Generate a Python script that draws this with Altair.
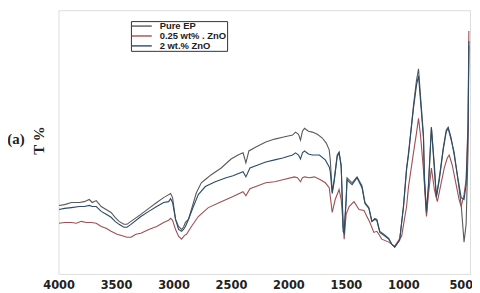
import altair as alt
import pandas as pd

series_names = ["Pure EP", "\u00a00.25 wt% . ZnO", "2 wt.% ZnO"]
series_colors = ["#595959", "#9c4f55", "#2b4b66"]

# Pure EP
wn_pure = [3996, 3948, 3888, 3819, 3776, 3733, 3707, 3672, 3629, 3586, 3543, 3508, 3474, 3431, 3405, 3370,
           3284, 3215, 3146, 3086, 3042, 3025, 3008, 2982, 2956, 2930, 2913, 2896, 2870, 2844, 2801, 2758,
           2715, 2671, 2585, 2499, 2438, 2395, 2370, 2344, 2283, 2197, 2119, 2050, 1964, 1938, 1912, 1895,
           1878, 1860, 1826, 1792, 1748, 1705, 1671, 1645, 1636, 1619, 1602, 1576, 1559, 1541, 1533, 1524,
           1515, 1498, 1490, 1446, 1403, 1360, 1334, 1300, 1274, 1248, 1231, 1205, 1170, 1127, 1101, 1075,
           1032, 998, 972, 955, 912, 886, 868, 851, 825, 817, 799, 782, 756, 730, 713, 687, 653, 627, 610,
           584, 558, 523, 497, 472, 454, 437, 430]
t_pure = [25.4, 25.7, 26.5, 26.5, 26.8, 27.6, 26.5, 27.2, 25.0, 23.9, 22.8, 21.0, 19.5, 18.4, 18.4, 19.5,
          22.1, 24.3, 26.5, 28.3, 29.4, 29.8, 28.3, 20.2, 17.6, 16.5, 17.3, 19.1, 20.2, 23.9, 30.1, 33.8,
          35.3, 36.8, 39.3, 42.6, 44.1, 44.9, 41.2, 45.6, 47.1, 48.9, 50.0, 50.7, 51.5, 52.6, 51.8, 49.6,
          52.9, 54.0, 52.9, 52.6, 51.8, 50.4, 48.5, 46.0, 42.3, 30.5, 34.9, 44.1, 45.2, 40.4, 30.1, 17.3,
          16.5, 27.6, 35.7, 33.8, 36.0, 32.7, 26.5, 24.6, 19.5, 20.6, 20.2, 15.8, 14.7, 13.2, 11.0, 9.9,
          12.9, 25.0, 38.6, 44.1, 62.5, 71.7, 76.1, 66.2, 51.5, 36.8, 22.1, 31.3, 54.4, 40.4, 28.3, 34.9,
          46.0, 52.6, 54.0, 49.6, 45.2, 34.2, 25.7, 11.8, 18.4, 46.0, 84.6]

# 0.25 wt% ZnO
wn_025 = [3996, 3948, 3888, 3845, 3802, 3758, 3715, 3672, 3629, 3586, 3543, 3491, 3431, 3405, 3370, 3327,
          3284, 3215, 3146, 3086, 3042, 3025, 3008, 2982, 2956, 2930, 2904, 2887, 2844, 2784, 2697, 2585,
          2482, 2395, 2370, 2335, 2266, 2197, 2119, 2050, 1947, 1921, 1895, 1878, 1860, 1817, 1774, 1722,
          1679, 1645, 1619, 1593, 1559, 1541, 1524, 1515, 1498, 1472, 1429, 1386, 1343, 1317, 1291, 1257,
          1231, 1213, 1188, 1127, 1075, 1015, 972, 955, 912, 886, 868, 851, 825, 799, 782, 756, 730, 704,
          679, 644, 618, 601, 575, 549, 515, 497, 472, 454, 437, 430]
t_025 = [18.8, 19.1, 19.1, 18.8, 19.5, 19.1, 19.1, 18.8, 17.6, 16.9, 15.8, 14.7, 14.0, 13.6, 13.6, 14.7,
         15.1, 16.5, 17.6, 19.1, 19.9, 20.6, 19.9, 16.5, 14.0, 12.9, 14.3, 14.7, 17.6, 21.3, 24.6, 26.8,
         28.7, 30.5, 29.0, 31.6, 32.7, 33.8, 34.2, 34.9, 36.0, 35.7, 34.2, 35.7, 36.0, 35.7, 36.0, 34.9,
         33.8, 32.0, 22.8, 27.6, 31.3, 27.6, 18.4, 12.9, 22.1, 25.0, 26.8, 23.9, 23.5, 21.3, 19.1, 15.4,
         15.8, 14.7, 12.9, 11.8, 10.3, 14.0, 25.0, 32.4, 44.9, 52.2, 57.7, 51.5, 38.6, 21.3, 29.4, 39.3,
         31.3, 26.8, 32.0, 39.3, 43.0, 44.1, 40.4, 34.9, 27.6, 25.0, 29.4, 34.9, 57.0, 90.1]

# 2 wt% ZnO
wn_2 = [3996, 3948, 3888, 3819, 3776, 3733, 3707, 3672, 3629, 3586, 3543, 3508, 3474, 3431, 3405, 3370,
        3284, 3215, 3146, 3086, 3042, 3025, 3008, 2982, 2956, 2930, 2913, 2896, 2870, 2827, 2784, 2723,
        2637, 2542, 2482, 2395, 2370, 2335, 2266, 2197, 2119, 2050, 1964, 1938, 1912, 1895, 1878, 1860,
        1826, 1792, 1731, 1679, 1645, 1636, 1619, 1602, 1576, 1559, 1541, 1533, 1524, 1515, 1498, 1490,
        1446, 1403, 1360, 1334, 1300, 1274, 1248, 1231, 1205, 1170, 1127, 1101, 1075, 1032, 998, 972,
        955, 912, 886, 868, 851, 825, 817, 799, 782, 756, 730, 713, 687, 653, 627, 610, 584, 558, 523,
        497, 472, 454, 437, 430]
t_2 = [23.9, 24.3, 24.6, 25.0, 25.0, 25.4, 25.0, 25.0, 23.2, 22.1, 21.0, 19.5, 18.4, 17.3, 17.3, 18.4,
       21.3, 23.2, 25.0, 26.5, 26.8, 27.9, 26.5, 20.2, 16.5, 15.8, 16.5, 17.6, 20.2, 25.0, 29.4, 32.4,
       34.2, 35.7, 36.4, 37.9, 36.0, 39.3, 40.4, 41.5, 42.3, 43.0, 44.1, 44.9, 44.1, 42.6, 44.9, 45.6,
       44.5, 44.1, 44.1, 42.3, 39.7, 37.9, 29.8, 34.2, 43.4, 44.9, 39.7, 29.4, 15.8, 15.1, 26.8, 34.9,
       33.1, 35.7, 32.0, 26.1, 24.3, 19.5, 20.2, 19.9, 15.4, 14.3, 12.9, 11.0, 9.9, 12.5, 25.7, 39.3,
       44.9, 61.4, 69.9, 73.5, 64.3, 50.4, 34.9, 23.2, 33.1, 54.4, 38.6, 28.7, 35.7, 46.7, 53.3, 54.4,
       50.4, 44.1, 34.9, 28.3, 27.6, 33.1, 53.3, 86.4]

x_ticks = [4000, 3500, 3000, 2500, 2000, 1500, 1000, 500]

rows = []
for name, wn, tv in zip(series_names, [wn_pure, wn_025, wn_2], [t_pure, t_025, t_2]):
    for w, v in zip(wn, tv):
        rows.append({"series": name, "wn": w, "T": v})
df = pd.DataFrame(rows)

lines = alt.Chart(df).mark_line(strokeWidth=1.1).encode(
    x=alt.X("wn:Q",
            scale=alt.Scale(domain=[420, 4000], reverse=True, nice=False, zero=False),
            axis=alt.Axis(values=x_ticks, format="d", ticks=False, domain=False, grid=False, title=None,
                          labelFont="DejaVu Sans", labelFontWeight="bold", labelFontSize=11.5,
                          labelColor="#222222", labelPadding=6, labelFlush=False, labelOverlap=False)),
    y=alt.Y("T:Q",
            scale=alt.Scale(domain=[0, 97.8], nice=False, zero=False),
            axis=alt.Axis(labels=False, ticks=False, domain=False, grid=False, title="T %",
                          titleFont="Liberation Serif", titleFontSize=15, titleFontWeight="bold",
                          titleColor="#222222", titleX=-20, titleY=131, titleAngle=270,
                          titleAlign="center", titleBaseline="middle")),
    color=alt.Color("series:N",
                    scale=alt.Scale(domain=series_names, range=series_colors),
                    sort=series_names,
                    legend=alt.Legend(title=None, orient="none", legendX=73, legendY=11,
                                      symbolType="M-2.5,0H2.5", symbolSize=64, symbolStrokeWidth=1.4,
                                      symbolOffset=6,
                                      labelFont="Liberation Sans", labelFontWeight="bold",
                                      labelFontSize=9.5, labelColor="#222222", labelOffset=13,
                                      padding=0, rowPadding=0, strokeColor="#333333",
                                      fillColor="white")),
    detail="series:N",
)

annot = alt.Chart(pd.DataFrame({"label": ["(a)"]})).mark_text(
    font="Liberation Serif", fontSize=15, fontWeight="bold", align="center", baseline="middle",
    color="#222222"
).encode(x=alt.value(-43), y=alt.value(130), text="label:N")

chart = alt.layer(lines, annot).properties(
    width=415, height=266,
    autosize=alt.AutoSizeParams(type="none"),
    padding={"left": 51, "top": 1, "right": 2, "bottom": 17},
).configure_view(stroke="#333333", strokeWidth=1.5).configure(background="white")

chart.save("out.html", embed_options={"renderer": "svg", "actions": False})
